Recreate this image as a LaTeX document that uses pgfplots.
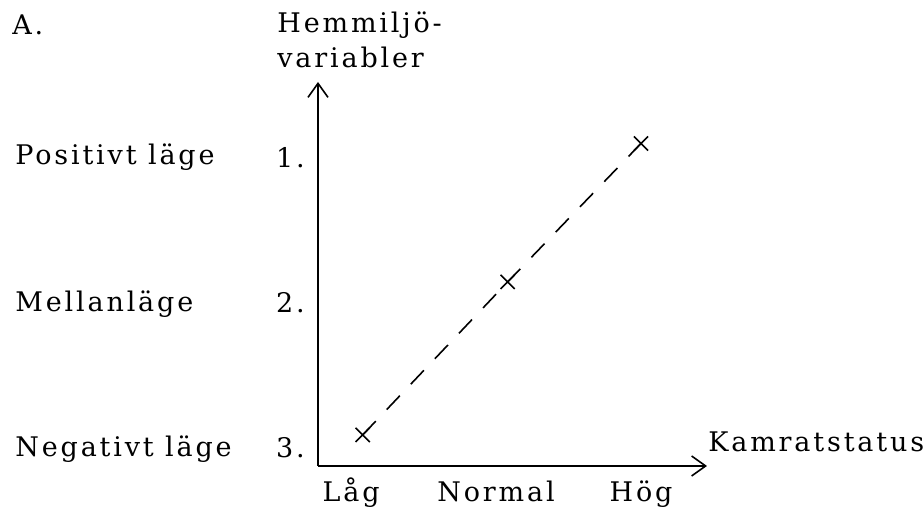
\documentclass[border=0pt]{standalone}
\usepackage{fontspec}
\setmainfont{DejaVu Serif}[LetterSpace=10.5]
\usepackage{pgfplots}
\pgfplotsset{compat=1.18}
\usetikzlibrary{arrows.meta}
\newcommand\tf{\fontsize{13.5}{16}\selectfont}
\begin{document}
\begin{tikzpicture}[font=\tf]
\path[use as bounding box] (0,0) rectangle (461.5pt,256pt);
\begin{axis}[
  at={(159pt,23pt)}, anchor=south west,
  scale only axis, width=194.5pt, height=192pt,
  axis lines=left,
  axis line style={line width=0.9pt, -{Straight Barb[length=7pt,width=10pt,line width=0.8pt]}},
  xmin=-0.228, xmax=2.455,
  ymin=-3.124, ymax=-0.476,
  xtick={0,1,2}, xticklabels={Låg,Normal,Hög},
  ytick={-3,-2,-1}, yticklabels={3.,2.,1.},
  major tick length=0pt,
  xticklabel style={font=\tf, anchor=base, yshift=-18pt, inner sep=0pt},
  yticklabel style={font=\tf, anchor=east, xshift=-6.5pt, inner sep=0pt},
  clip=false,
]
\addplot[black, line width=0.8pt, dash pattern=on 9.5pt off 8pt, mark=x, mark size=5pt, mark options={solid, line width=0.8pt}] coordinates {(0.08,-2.91) (1.08,-1.855) (2.0,-0.90)};
\end{axis}
\node[anchor=base west, inner sep=0pt] at (6pt,238.5pt) {A.};
\node[anchor=base west, inner sep=0pt] at (138.5pt,239.5pt) {Hemmiljö-};
\node[anchor=base west, inner sep=0pt] at (138.5pt,222pt) {variabler};
\node[anchor=base west, inner sep=0pt] at (7.5pt,173.5pt) {Positivt läge};
\node[anchor=base west, inner sep=0pt] at (7.5pt,100pt) {Mellanläge};
\node[anchor=base west, inner sep=0pt] at (7.5pt,27.5pt) {Negativt läge};
\node[anchor=base west, inner sep=0pt] at (354pt,30pt) {Kamratstatus};
\end{tikzpicture}
\end{document}
